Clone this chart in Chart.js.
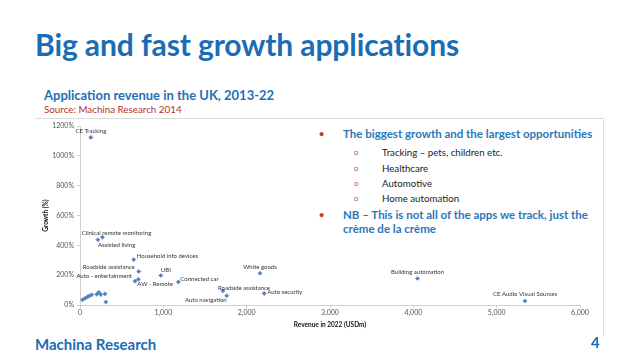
<!DOCTYPE html>
<html>
<head>
<meta charset="utf-8">
<script src="https://cdn.jsdelivr.net/npm/chart.js@4/dist/chart.umd.min.js"></script>
<style>
  html, body { margin:0; padding:0; background:#fff; }
  body { width:638px; height:359px; position:relative; overflow:hidden; font-family: Lato, "Open Sans", sans-serif; }
  .abs { position:absolute; white-space:nowrap; }
  #title { left:35px; top:26px; font-size:30px; font-weight:700; color:#1b6db3; letter-spacing:-0.1px; }
  #sub { left:44px; top:87px; font-size:13px; font-weight:700; color:#1f6fb5; }
  #src { left:44px; top:103px; font-size:9.8px; color:#b0352b; }
  #frame { left:35px; top:118px; width:568px; height:217px; border-top:1px solid #dcdcdc; border-right:1px solid #dcdcdc; }
  #wrap { left:35px; top:119px; width:568px; height:216px; }
  #box { left:306px; top:122px; width:296px; height:126px; background:#fff; }
  .b1 { position:absolute; left:14px; font-size:11.5px; font-weight:700; color:#2a78bb; }
  .b1 .dot { position:absolute; left:-1px; color:#c0392b; font-size:9px; top:1px; }
  .b1 .t { position:absolute; left:23px; white-space:nowrap; }
  .b2 { position:absolute; left:48px; font-size:9.7px; color:#222; }
  .b2 .o { position:absolute; left:0; color:#b0524d; font-size:8px; top:1px; }
  .b2 .t { position:absolute; left:28px; white-space:nowrap; }
  #foot { left:35px; top:335px; font-size:15px; font-weight:700; color:#1b6db3; }
  #page { left:591px; top:333px; font-size:15px; font-weight:700; color:#1b6db3; }
</style>
</head>
<body>
<div id="title" class="abs">Big and fast growth applications</div>
<div id="sub" class="abs">Application revenue in the UK, 2013-22</div>
<div id="src" class="abs">Source: Machina Research 2014</div>
<div id="frame" class="abs"></div>
<div id="wrap" class="abs"><canvas id="c" width="568" height="216"></canvas></div>
<div id="box" class="abs">
  <div class="b1" style="top:5px"><span class="dot">•</span><span class="t">The biggest growth and the largest opportunities</span></div>
  <div class="b2" style="top:24px"><span class="o">o</span><span class="t">Tracking – pets, children etc.</span></div>
  <div class="b2" style="top:40px"><span class="o">o</span><span class="t">Healthcare</span></div>
  <div class="b2" style="top:55px"><span class="o">o</span><span class="t">Automotive</span></div>
  <div class="b2" style="top:70px"><span class="o">o</span><span class="t">Home automation</span></div>
  <div class="b1" style="top:86px"><span class="dot">•</span><span class="t">NB – This is not all of the apps we track, just the</span></div>
  <div class="b1" style="top:100px"><span class="t">crème de la crème</span></div>
</div>
<div id="foot" class="abs">Machina Research</div>
<div id="page" class="abs">4</div>
<script>
// ---- data ----
const appNames = ["CE Tracking","Clinical remote monitoring","Assisted living","Household info devices","Roadside assistance","Auto - entertainment","AW - Remote","UBI","Connected car","White goods","Roadside assistance","Auto navigation","Auto security","Building automation","CE Audio Visual Sources"];
const appRevenue = [130, 270, 215, 645, 705, 660, 700, 970, 1180, 2160, 1715, 1760, 2210, 4050, 5340];
const appGrowth  = [1125, 455, 438, 305, 225, 160, 172, 198, 155, 213, 95, 62, 78, 178, 27];
const otherRevenue = [30, 60, 90, 110, 140, 200, 225, 250, 300, 310];
const otherGrowth  = [35, 45, 55, 60, 68, 72, 85, 70, 75, 20];
const xTicks = [0, 1000, 2000, 3000, 4000, 5000, 6000];
const yTicks = [0, 200, 400, 600, 800, 1000, 1200];

// label placement (align, dx, dy) per labelled point
const labelPlacement = [
  ["center", 0, -6], ["center", 14, -4], ["left", 0, 5], ["left", 3, -3],
  ["right", -4, -4], ["right", -3, -5], ["left", -1, 5], ["left", 0, -5],
  ["left", 2, -3], ["center", 0, -6], ["left", -5, -3], ["right", 0, 4],
  ["left", 3, -1], ["center", 0, -6], ["center", 0, -7]
];

const toPts = (xs, ys) => xs.map((x, i) => ({x: x, y: ys[i]}));

const labelPlugin = {
  id: 'pointLabels',
  afterDatasetsDraw(chart) {
    const ctx = chart.ctx;
    const meta = chart.getDatasetMeta(0);
    ctx.save();
    ctx.font = '6px Lato, sans-serif';
    ctx.fillStyle = '#333';
    ctx.textBaseline = 'middle';
    meta.data.forEach((el, i) => {
      const p = labelPlacement[i];
      ctx.textAlign = p[0];
      ctx.fillText(appNames[i], el.x + p[1], el.y + p[2]);
    });
    ctx.restore();
  }
};

const pointStyle = {
  pointStyle: 'rectRot', pointRadius: 2.1, pointHoverRadius: 2.1,
  backgroundColor: '#4f81bd', borderColor: '#4f81bd', borderWidth: 0.5
};

new Chart(document.getElementById('c'), {
  type: 'scatter',
  data: {
    datasets: [
      Object.assign({ label: 'Applications', data: toPts(appRevenue, appGrowth) }, pointStyle),
      Object.assign({ label: 'Other', data: toPts(otherRevenue, otherGrowth) }, pointStyle)
    ]
  },
  options: {
    responsive: false,
    animation: false,
    devicePixelRatio: 1,
    layout: { padding: { left: 0, top: 6, right: 23, bottom: 0 } },
    plugins: { legend: { display: false }, tooltip: { enabled: false } },
    scales: {
      x: {
        type: 'linear', min: 0, max: 6000,
        afterBuildTicks: s => { s.ticks = xTicks.map(v => ({value: v})); },
        afterFit: s => { s.height = 30; },
        grid: { display: true, drawOnChartArea: false, drawTicks: true, tickLength: 3, color: '#d0d0d0' },
        border: { display: true, color: '#d0d0d0' },
        ticks: { font: { family: 'Lato', size: 7 }, color: '#555', padding: 1, maxRotation: 0,
                 callback: v => v.toLocaleString('en-US') },
        title: { display: true, text: 'Revenue in 2022 (USDm)', font: { family: 'Lato', size: 6.5, weight: 'bold' },
                 color: '#111', padding: { top: 0, bottom: 6 } }
      },
      y: {
        type: 'linear', min: 0, max: 1200,
        afterBuildTicks: s => { s.ticks = yTicks.map(v => ({value: v})); },
        afterFit: s => { s.width = 45; },
        grid: { display: true, drawOnChartArea: false, drawTicks: true, tickLength: 3, color: '#d0d0d0' },
        border: { display: true, color: '#d0d0d0' },
        ticks: { font: { family: 'Lato', size: 7 }, color: '#555', padding: 3,
                 callback: v => v + '%' },
        title: { display: true, text: 'Growth (%)', font: { family: 'Lato', size: 6.5, weight: 'bold' },
                 color: '#111', padding: { top: 7, bottom: 0 } }
      }
    }
  },
  plugins: [labelPlugin]
});
</script>
</body>
</html>
